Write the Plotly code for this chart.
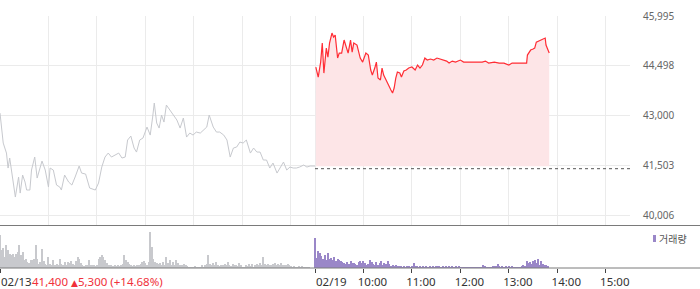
import plotly.graph_objects as go

# ---------------- data ----------------
# minutes after 09:00 for each trading day (session 09:00-15:30 = 390 min)
day1_minutes = [0, 4, 8, 10, 12, 14, 19, 23, 25, 28, 31, 33, 37, 39, 43, 46, 52, 56, 60, 62,
                66, 70, 74, 76, 80, 85, 89, 93, 98, 101, 106, 111, 118, 122, 126, 130, 134, 138, 142, 147,
                151, 155, 158, 162, 166, 169, 173, 177, 182, 186, 189, 191, 194, 197, 200, 203, 206, 210, 215, 219,
                223, 227, 231, 235, 239, 243, 248, 252, 256, 259, 264, 268, 272, 277, 281, 285, 289, 293, 297, 301,
                305, 310, 314, 318, 322, 326, 330, 334, 338, 343, 347, 351, 355, 359, 363, 367, 371, 376, 380, 384,
                390]
day1_prices = [43075, 42172, 41871, 41420, 41721, 41360, 40547, 41149, 40667, 41209, 40998, 40758, 40758, 41360, 41751, 41119, 41630, 41360, 40848, 41420,
               41360, 40908, 40848, 40758, 41209, 40998, 40908, 41149, 41480, 41269, 41239, 40818, 40758, 40968, 41450, 41751, 41871, 41751, 41811, 41871,
               41721, 41751, 42263, 42383, 42022, 41901, 42263, 42323, 42654, 42413, 42955, 43376, 42774, 42624, 43015, 42804, 43316, 43166, 43015, 42865,
               42624, 42925, 42353, 42473, 42413, 42503, 42473, 42564, 42654, 43015, 42654, 42503, 42503, 42413, 42263, 41751, 42022, 42052, 42202, 42172,
               42263, 41871, 42022, 41901, 41901, 41661, 41661, 41420, 41570, 41269, 41450, 41600, 41360, 41450, 41420, 41420, 41450, 41510, 41450, 41480,
               41480]

day2_minutes = [1, 4, 7, 9, 11, 14, 16, 18, 21, 23, 25, 28, 30, 33, 36, 39, 41, 44, 46, 48,
                52, 56, 59, 63, 66, 69, 71, 74, 76, 78, 81, 83, 85, 88, 92, 94, 96, 98, 100, 102,
                105, 107, 110, 113, 116, 120, 124, 127, 130, 133, 136, 139, 143, 147, 151, 156, 160, 163, 166, 170,
                174, 180, 184, 191, 199, 207, 211, 215, 222, 228, 234, 240, 244, 248, 255, 262, 263, 265, 267, 270,
                272, 274, 277, 280, 283, 285, 286, 289, 290]
day2_prices = [44460, 44159, 44610, 45182, 44279, 45032, 44761, 45182, 45483, 45363, 45423, 44731, 44881, 44881, 45273, 45062, 44881, 45273, 44911, 45182,
               45122, 44731, 44610, 44881, 44821, 44370, 44219, 44430, 44610, 44129, 44069, 44430, 44219, 44069, 43828, 43768, 43677, 43828, 44129, 44309,
               44279, 44159, 44339, 44370, 44430, 44460, 44370, 44520, 44430, 44520, 44731, 44671, 44701, 44671, 44731, 44701, 44671, 44640, 44580, 44640,
               44610, 44671, 44610, 44610, 44610, 44610, 44640, 44580, 44610, 44580, 44580, 44520, 44580, 44580, 44580, 44580, 44821, 44911, 44972, 45002,
               45032, 45212, 45242, 45273, 45303, 45333, 45122, 44911, 44881]

prev_close = 41400
fill_base = 41470

# volume per 2-minute bar (thousand shares)
day1_volume = [33, 18, 20, 11, 23, 18, 14, 13, 14, 11, 14, 16, 23, 13, 16, 8, 9, 6, 5, 8,
               8, 9, 23, 9, 4, 6, 19, 7, 4, 3, 11, 4, 3, 8, 3, 4, 3, 9, 4, 3,
               6, 3, 6, 5, 7, 4, 3, 7, 11, 9, 5, 3, 2, 3, 3, 8, 3, 3, 3, 2,
               3, 9, 11, 13, 11, 8, 5, 3, 3, 3, 2, 3, 2, 3, 2, 3, 4, 13, 8, 6,
               4, 3, 2, 3, 2, 3, 3, 4, 6, 7, 5, 3, 6, 36, 21, 9, 6, 5, 4,
               5, 3, 6, 3, 11, 5, 8, 3, 6, 3, 8, 5, 3, 3, 3, 4, 3, 2, 1, 1,
               1, 1, 2, 1, 1, 1, 3, 1, 3, 4, 13, 4, 3, 5, 3, 6, 3, 2, 3, 3,
               4, 3, 6, 3, 2, 4, 3, 3, 2, 5, 3, 1, 1, 3, 2, 4, 2, 4, 1, 3,
               4, 3, 5, 3, 11, 4, 3, 4, 3, 3, 4, 5, 3, 4, 3, 5, 3, 3, 3, 4,
               3, 2, 1, 2, 1, 1, 2, 1, 2, 1, 1, 1, 1, 0, 0]
day2_volume = [30, 10, 17, 15, 12, 9, 13, 8, 15, 9, 10, 8, 11, 7, 9,
               8, 7, 6, 5, 4, 6, 4, 7, 5, 5, 4, 3, 6, 7, 5, 7, 5, 3, 4, 8,
               6, 4, 3, 6, 3, 5, 7, 3, 5, 4, 7, 4, 2, 3, 2, 3, 2, 2, 2, 1,
               2, 1, 2, 2, 1, 2, 5, 2, 2, 1, 2, 1, 2, 1, 2, 1, 2, 1, 2, 1,
               2, 2, 2, 1, 2, 1, 2, 1, 2, 1, 2, 1, 2, 1, 2, 1, 1, 1, 1, 1,
               1, 1, 1, 1, 1, 1, 1, 1, 1, 3, 2, 1, 1, 1, 1, 2, 2, 2, 4, 2,
               1, 2, 1, 2, 1, 2, 1, 2, 1, 1, 1, 1, 1, 2, 3, 2, 7, 5, 6, 4,
               7, 8, 5, 9, 3, 7, 4, 3, 3, 2]

y_ticks = [40006, 41503, 43000, 44498, 45995]
y_tick_text = ["40,006", "41,503", "43,000", "44,498", "45,995"]
day_labels = ["02/13", "02/19"]
hour_labels = ["10:00", "11:00", "12:00", "13:00", "14:00", "15:00"]
day1_summary = "41,400 <span style='font-size:9px'>▲</span>5,300 (+14.68%)"
volume_name = "거래량"

SESSION = 390
# ---------------- figure ----------------
W, H = 700, 289
def py(pix):
    return (H - pix) / H

LABEL_Y = 281
LABEL_FONT = 11.5

day2_x = [SESSION + m for m in day2_minutes]
vol1_x = [2 * i for i in range(len(day1_volume))]
vol2_x = [SESSION + 2 * i for i in range(len(day2_volume))]

fig = go.Figure()
fig.add_trace(go.Scatter(x=day1_minutes, y=day1_prices, mode="lines",
                         line=dict(color="#c7c9ce", width=1), hoverinfo="skip",
                         showlegend=False, xaxis="x", yaxis="y"))
fig.add_trace(go.Scatter(x=day2_x, y=[fill_base] * len(day2_x), mode="lines",
                         line=dict(width=0, color="rgba(0,0,0,0)"), hoverinfo="skip",
                         showlegend=False, xaxis="x", yaxis="y"))
fig.add_trace(go.Scatter(x=day2_x, y=day2_prices, mode="lines", fill="tonexty",
                         fillcolor="#fde5e7", line=dict(color="#ff2d35", width=1.2),
                         hoverinfo="skip", showlegend=False, xaxis="x", yaxis="y"))
fig.add_trace(go.Scatter(x=[SESSION, 2 * SESSION], y=[prev_close, prev_close], mode="lines",
                         line=dict(color="#555555", width=1, dash="dot"), hoverinfo="skip",
                         showlegend=False, xaxis="x", yaxis="y"))
fig.add_trace(go.Bar(x=vol1_x, y=day1_volume, width=1.3, marker=dict(color="#c8c9cd", line=dict(width=0)),
                     hoverinfo="skip", showlegend=False, xaxis="x2", yaxis="y2"))
fig.add_trace(go.Bar(x=vol2_x, y=day2_volume, width=1.3, marker=dict(color="#9a87c8", line=dict(width=0)),
                     name=volume_name, hoverinfo="skip", showlegend=False, xaxis="x2", yaxis="y2"))

grid_x = [0] + [60 * k for k in range(1, 7)] + [SESSION] + [SESSION + 60 * k for k in range(1, 7)]
hour_ticks = [SESSION + 60 * k for k in range(1, 7)]

fig.update_layout(
    width=W, height=H, autosize=False,
    margin=dict(l=0, r=0, t=0, b=0, pad=0, autoexpand=False),
    paper_bgcolor="white", plot_bgcolor="white",
    font=dict(family="Noto Sans, DejaVu Sans, sans-serif"),
    bargap=0, showlegend=False,
    xaxis=dict(domain=[0, 630 / W], range=[0, 2 * SESSION], anchor="y",
               tickvals=grid_x, showticklabels=False, ticks="", automargin=False,
               showgrid=True, gridcolor="#ebebeb", gridwidth=1, zeroline=False, showline=False),
    yaxis=dict(domain=[py(225), py(16)], range=[39705, 45997], side="right", anchor="x",
               tickvals=y_ticks, ticktext=y_tick_text, ticks="", automargin=False,
               tickfont=dict(size=10, color="#666666", family="Noto Sans, sans-serif"),
               ticklabelstandoff=12,
               showgrid=True, gridcolor="#ebebeb", gridwidth=1, zeroline=False, showline=False),
    xaxis2=dict(domain=[0, 630 / W], range=[0, 2 * SESSION], anchor="y2", automargin=False,
                tickvals=[0, SESSION] + hour_ticks, ticktext=["", ""] + hour_labels,
                ticks="outside", ticklen=4, tickcolor="#444444", tickwidth=1,
                ticklabelshift=9, ticklabelstandoff=-1,
                tickfont=dict(size=LABEL_FONT, color="#333333", family="Noto Sans, sans-serif"),
                showgrid=False, zeroline=False, showline=False),
    yaxis2=dict(domain=[py(268), py(226)], range=[0, 42], anchor="x2", automargin=False,
                visible=False),
    shapes=[
        dict(type="line", xref="paper", yref="paper", x0=0, x1=1, y0=py(225.5), y1=py(225.5),
             line=dict(color="#7a7a7a", width=1)),
        dict(type="line", xref="paper", yref="paper", x0=0, x1=1, y0=py(268), y1=py(268),
             line=dict(color="#7a7a7a", width=1)),
        dict(type="rect", xref="paper", yref="paper", x0=653 / W, x1=656 / W, y0=py(242), y1=py(235),
             fillcolor="#9a87c8", line=dict(width=0)),
    ],
    annotations=[
        dict(x=0, y=py(LABEL_Y), xref="x2", yref="paper", text=day_labels[0], showarrow=False,
             xanchor="left", yanchor="middle", xshift=-1,
             font=dict(size=LABEL_FONT, color="#333333", family="Noto Sans, sans-serif")),
        dict(x=SESSION, y=py(LABEL_Y), xref="x2", yref="paper", text=day_labels[1], showarrow=False,
             xanchor="left", yanchor="middle", xshift=-1,
             font=dict(size=LABEL_FONT, color="#333333", family="Noto Sans, sans-serif")),
        dict(x=31 / W, y=py(LABEL_Y), xref="paper", yref="paper", text=day1_summary, showarrow=False,
             xanchor="left", yanchor="middle", xshift=-1,
             font=dict(size=LABEL_FONT, color="#f0303a", family="Noto Sans, DejaVu Sans, sans-serif")),
        dict(x=657 / W, y=py(238.5), xref="paper", yref="paper", text=volume_name, showarrow=False,
             xanchor="left", yanchor="middle",
             font=dict(size=10, color="#555555", family="Noto Sans CJK KR, sans-serif")),
    ],
)

fig.write_html("out.html")
